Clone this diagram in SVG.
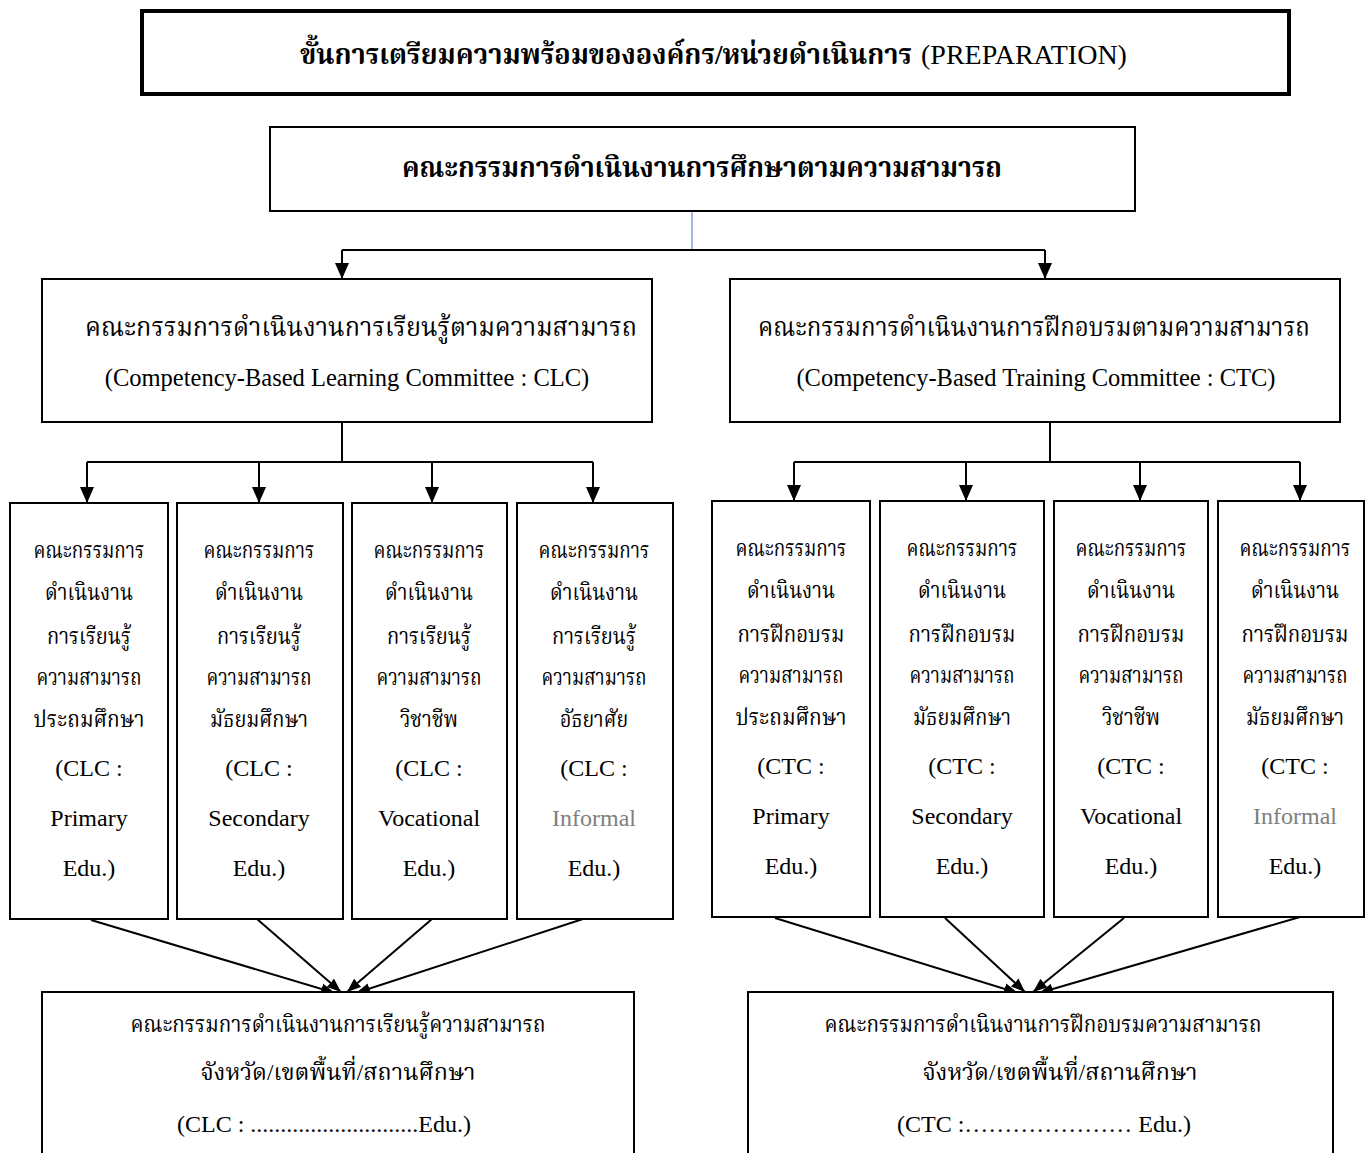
<svg xmlns="http://www.w3.org/2000/svg" width="1366" height="1153" viewBox="0 0 1366 1153">
<defs>
<style>
text{font-family:"Liberation Serif","Noto Serif Thai","Noto Sans Thai",serif;fill:#000;text-anchor:middle}
.box{fill:#fff;stroke:#000;stroke-width:2}
.th{font-size:23px}
.en{font-size:24px}
.b{font-weight:bold}
.gray{fill:#7f7f7f}
.c{fill:none;stroke:#000;stroke-width:2}
</style>
<marker id="ah" markerUnits="userSpaceOnUse" markerWidth="16" markerHeight="16" viewBox="0 0 16 16" refX="16" refY="8" orient="auto">
<path d="M0,1 L16,8 L0,15 Z" fill="#000"/>
</marker>
<marker id="ah2" markerUnits="userSpaceOnUse" markerWidth="14" markerHeight="12" viewBox="0 0 14 12" refX="14" refY="6" orient="auto">
<path d="M0,0.5 L14,6 L0,11.5 Z" fill="#000"/>
</marker>
</defs>
<rect width="1366" height="1153" fill="#fff"/>

<g id="connectors">
<line x1="692" y1="211" x2="692" y2="250" stroke="#4472C4" stroke-width="1"/>
<line class="c" x1="342" y1="250" x2="1045" y2="250"/>
<line class="c" x1="342" y1="250" x2="342" y2="279" marker-end="url(#ah)"/>
<line class="c" x1="1045" y1="250" x2="1045" y2="279" marker-end="url(#ah)"/>
<line class="c" x1="342" y1="422" x2="342" y2="462"/>
<line class="c" x1="87" y1="462" x2="593" y2="462"/>
<line class="c" x1="87" y1="462" x2="87" y2="503" marker-end="url(#ah)"/>
<line class="c" x1="259" y1="462" x2="259" y2="503" marker-end="url(#ah)"/>
<line class="c" x1="432" y1="462" x2="432" y2="503" marker-end="url(#ah)"/>
<line class="c" x1="593" y1="462" x2="593" y2="503" marker-end="url(#ah)"/>
<line class="c" x1="1050" y1="422" x2="1050" y2="462"/>
<line class="c" x1="794" y1="462" x2="1300" y2="462"/>
<line class="c" x1="794" y1="462" x2="794" y2="501" marker-end="url(#ah)"/>
<line class="c" x1="966" y1="462" x2="966" y2="501" marker-end="url(#ah)"/>
<line class="c" x1="1140" y1="462" x2="1140" y2="501" marker-end="url(#ah)"/>
<line class="c" x1="1300" y1="462" x2="1300" y2="501" marker-end="url(#ah)"/>
<line class="c" x1="91" y1="920" x2="335" y2="993" marker-end="url(#ah2)"/>
<line class="c" x1="257" y1="919" x2="341" y2="992" marker-end="url(#ah2)"/>
<line class="c" x1="432" y1="919" x2="347" y2="992" marker-end="url(#ah2)"/>
<line class="c" x1="586" y1="918" x2="356" y2="993" marker-end="url(#ah2)"/>
<line class="c" x1="775" y1="918" x2="1018" y2="993" marker-end="url(#ah2)"/>
<line class="c" x1="945" y1="918" x2="1025" y2="992" marker-end="url(#ah2)"/>
<line class="c" x1="1124" y1="918" x2="1033" y2="992" marker-end="url(#ah2)"/>
<line class="c" x1="1300" y1="917" x2="1039" y2="993" marker-end="url(#ah2)"/>
</g>

<g id="title">
<rect x="142" y="11" width="1147" height="83" fill="#fff" stroke="#000" stroke-width="4"/>
<text x="606" y="64" font-size="28" class="b" textLength="612" lengthAdjust="spacingAndGlyphs">ขั้นการเตรียมความพร้อมขององค์กร/หน่วยดำเนินการ</text>
<text x="1024" y="64" font-size="28">(PREPARATION)</text>
</g>

<g id="main">
<rect class="box" x="270" y="127" width="865" height="84"/>
<text x="702" y="177" font-size="28" class="b" textLength="600" lengthAdjust="spacingAndGlyphs">คณะกรรมการดำเนินงานการศึกษาตามความสามารถ</text>
</g>

<g id="clc">
<rect class="box" x="42" y="279" width="610" height="143"/>
<text x="361" y="336" font-size="26" textLength="552" lengthAdjust="spacingAndGlyphs">คณะกรรมการดำเนินงานการเรียนรู้ตามความสามารถ</text>
<text x="347" y="386" font-size="24.5">(Competency-Based Learning Committee : CLC)</text>
</g>

<g id="ctc">
<rect class="box" x="730" y="279" width="610" height="143"/>
<text x="1034" y="336" font-size="26" textLength="552" lengthAdjust="spacingAndGlyphs">คณะกรรมการดำเนินงานการฝึกอบรมตามความสามารถ</text>
<text x="1036" y="386" font-size="24.5">(Competency-Based Training Committee : CTC)</text>
</g>

<g id="clc-primary">
<rect class="box" x="10" y="503" width="158" height="416"/>
<text x="89" y="558" class="th" textLength="111" lengthAdjust="spacingAndGlyphs">คณะกรรมการ</text>
<text x="89" y="600" class="th" textLength="88" lengthAdjust="spacingAndGlyphs">ดำเนินงาน</text>
<text x="89" y="644" class="th" textLength="84" lengthAdjust="spacingAndGlyphs">การเรียนรู้</text>
<text x="89" y="685" class="th" textLength="105" lengthAdjust="spacingAndGlyphs">ความสามารถ</text>
<text x="89" y="727" class="th" textLength="111" lengthAdjust="spacingAndGlyphs">ประถมศึกษา</text>
<text x="89" y="776" class="en">(CLC :</text>
<text x="89" y="826" class="en">Primary</text>
<text x="89" y="876" class="en">Edu.)</text>
</g>

<g id="clc-secondary">
<rect class="box" x="177" y="503" width="166" height="416"/>
<text x="259" y="558" class="th" textLength="111" lengthAdjust="spacingAndGlyphs">คณะกรรมการ</text>
<text x="259" y="600" class="th" textLength="88" lengthAdjust="spacingAndGlyphs">ดำเนินงาน</text>
<text x="259" y="644" class="th" textLength="84" lengthAdjust="spacingAndGlyphs">การเรียนรู้</text>
<text x="259" y="685" class="th" textLength="105" lengthAdjust="spacingAndGlyphs">ความสามารถ</text>
<text x="259" y="727" class="th" textLength="98" lengthAdjust="spacingAndGlyphs">มัธยมศึกษา</text>
<text x="259" y="776" class="en">(CLC :</text>
<text x="259" y="826" class="en">Secondary</text>
<text x="259" y="876" class="en">Edu.)</text>
</g>

<g id="clc-vocational">
<rect class="box" x="352" y="503" width="155" height="416"/>
<text x="429" y="558" class="th" textLength="111" lengthAdjust="spacingAndGlyphs">คณะกรรมการ</text>
<text x="429" y="600" class="th" textLength="88" lengthAdjust="spacingAndGlyphs">ดำเนินงาน</text>
<text x="429" y="644" class="th" textLength="84" lengthAdjust="spacingAndGlyphs">การเรียนรู้</text>
<text x="429" y="685" class="th" textLength="105" lengthAdjust="spacingAndGlyphs">ความสามารถ</text>
<text x="429" y="727" class="th" textLength="58" lengthAdjust="spacingAndGlyphs">วิชาชีพ</text>
<text x="429" y="776" class="en">(CLC :</text>
<text x="429" y="826" class="en">Vocational</text>
<text x="429" y="876" class="en">Edu.)</text>
</g>

<g id="clc-informal">
<rect class="box" x="517" y="503" width="156" height="416"/>
<text x="594" y="558" class="th" textLength="111" lengthAdjust="spacingAndGlyphs">คณะกรรมการ</text>
<text x="594" y="600" class="th" textLength="88" lengthAdjust="spacingAndGlyphs">ดำเนินงาน</text>
<text x="594" y="644" class="th" textLength="84" lengthAdjust="spacingAndGlyphs">การเรียนรู้</text>
<text x="594" y="685" class="th" textLength="105" lengthAdjust="spacingAndGlyphs">ความสามารถ</text>
<text x="594" y="727" class="th" textLength="68" lengthAdjust="spacingAndGlyphs">อัธยาศัย</text>
<text x="594" y="776" class="en">(CLC :</text>
<text x="594" y="826" class="en gray">Informal</text>
<text x="594" y="876" class="en">Edu.)</text>
</g>

<g id="ctc-primary">
<rect class="box" x="712" y="501" width="158" height="416"/>
<text x="791" y="556" class="th" textLength="111" lengthAdjust="spacingAndGlyphs">คณะกรรมการ</text>
<text x="791" y="598" class="th" textLength="88" lengthAdjust="spacingAndGlyphs">ดำเนินงาน</text>
<text x="791" y="642" class="th" textLength="107" lengthAdjust="spacingAndGlyphs">การฝึกอบรม</text>
<text x="791" y="683" class="th" textLength="105" lengthAdjust="spacingAndGlyphs">ความสามารถ</text>
<text x="791" y="725" class="th" textLength="111" lengthAdjust="spacingAndGlyphs">ประถมศึกษา</text>
<text x="791" y="774" class="en">(CTC :</text>
<text x="791" y="824" class="en">Primary</text>
<text x="791" y="874" class="en">Edu.)</text>
</g>

<g id="ctc-secondary">
<rect class="box" x="880" y="501" width="164" height="416"/>
<text x="962" y="556" class="th" textLength="111" lengthAdjust="spacingAndGlyphs">คณะกรรมการ</text>
<text x="962" y="598" class="th" textLength="88" lengthAdjust="spacingAndGlyphs">ดำเนินงาน</text>
<text x="962" y="642" class="th" textLength="107" lengthAdjust="spacingAndGlyphs">การฝึกอบรม</text>
<text x="962" y="683" class="th" textLength="105" lengthAdjust="spacingAndGlyphs">ความสามารถ</text>
<text x="962" y="725" class="th" textLength="98" lengthAdjust="spacingAndGlyphs">มัธยมศึกษา</text>
<text x="962" y="774" class="en">(CTC :</text>
<text x="962" y="824" class="en">Secondary</text>
<text x="962" y="874" class="en">Edu.)</text>
</g>

<g id="ctc-vocational">
<rect class="box" x="1054" y="501" width="154" height="416"/>
<text x="1131" y="556" class="th" textLength="111" lengthAdjust="spacingAndGlyphs">คณะกรรมการ</text>
<text x="1131" y="598" class="th" textLength="88" lengthAdjust="spacingAndGlyphs">ดำเนินงาน</text>
<text x="1131" y="642" class="th" textLength="107" lengthAdjust="spacingAndGlyphs">การฝึกอบรม</text>
<text x="1131" y="683" class="th" textLength="105" lengthAdjust="spacingAndGlyphs">ความสามารถ</text>
<text x="1131" y="725" class="th" textLength="58" lengthAdjust="spacingAndGlyphs">วิชาชีพ</text>
<text x="1131" y="774" class="en">(CTC :</text>
<text x="1131" y="824" class="en">Vocational</text>
<text x="1131" y="874" class="en">Edu.)</text>
</g>

<g id="ctc-informal">
<rect class="box" x="1218" y="501" width="146" height="416"/>
<text x="1295" y="556" class="th" textLength="111" lengthAdjust="spacingAndGlyphs">คณะกรรมการ</text>
<text x="1295" y="598" class="th" textLength="88" lengthAdjust="spacingAndGlyphs">ดำเนินงาน</text>
<text x="1295" y="642" class="th" textLength="107" lengthAdjust="spacingAndGlyphs">การฝึกอบรม</text>
<text x="1295" y="683" class="th" textLength="105" lengthAdjust="spacingAndGlyphs">ความสามารถ</text>
<text x="1295" y="725" class="th" textLength="98" lengthAdjust="spacingAndGlyphs">มัธยมศึกษา</text>
<text x="1295" y="774" class="en">(CTC :</text>
<text x="1295" y="824" class="en gray">Informal</text>
<text x="1295" y="874" class="en">Edu.)</text>
</g>

<g id="clc-area">
<rect class="box" x="42" y="992" width="592" height="200"/>
<text x="338" y="1032" class="th" textLength="415" lengthAdjust="spacingAndGlyphs">คณะกรรมการดำเนินงานการเรียนรู้ความสามารถ</text>
<text x="338" y="1080" class="th" textLength="275" lengthAdjust="spacingAndGlyphs">จังหวัด/เขตพื้นที่/สถานศึกษา</text>
<text x="324" y="1132" class="en">(CLC : ............................Edu.)</text>
</g>

<g id="ctc-area">
<rect class="box" x="748" y="992" width="585" height="200"/>
<text x="1043" y="1032" class="th" textLength="437" lengthAdjust="spacingAndGlyphs">คณะกรรมการดำเนินงานการฝึกอบรมความสามารถ</text>
<text x="1060" y="1080" class="th" textLength="275" lengthAdjust="spacingAndGlyphs">จังหวัด/เขตพื้นที่/สถานศึกษา</text>
<text x="1044" y="1132" class="en">(CTC :&#8230;&#8230;&#8230;&#8230;&#8230;&#8230;&#8230; Edu.)</text>
</g>
</svg>
